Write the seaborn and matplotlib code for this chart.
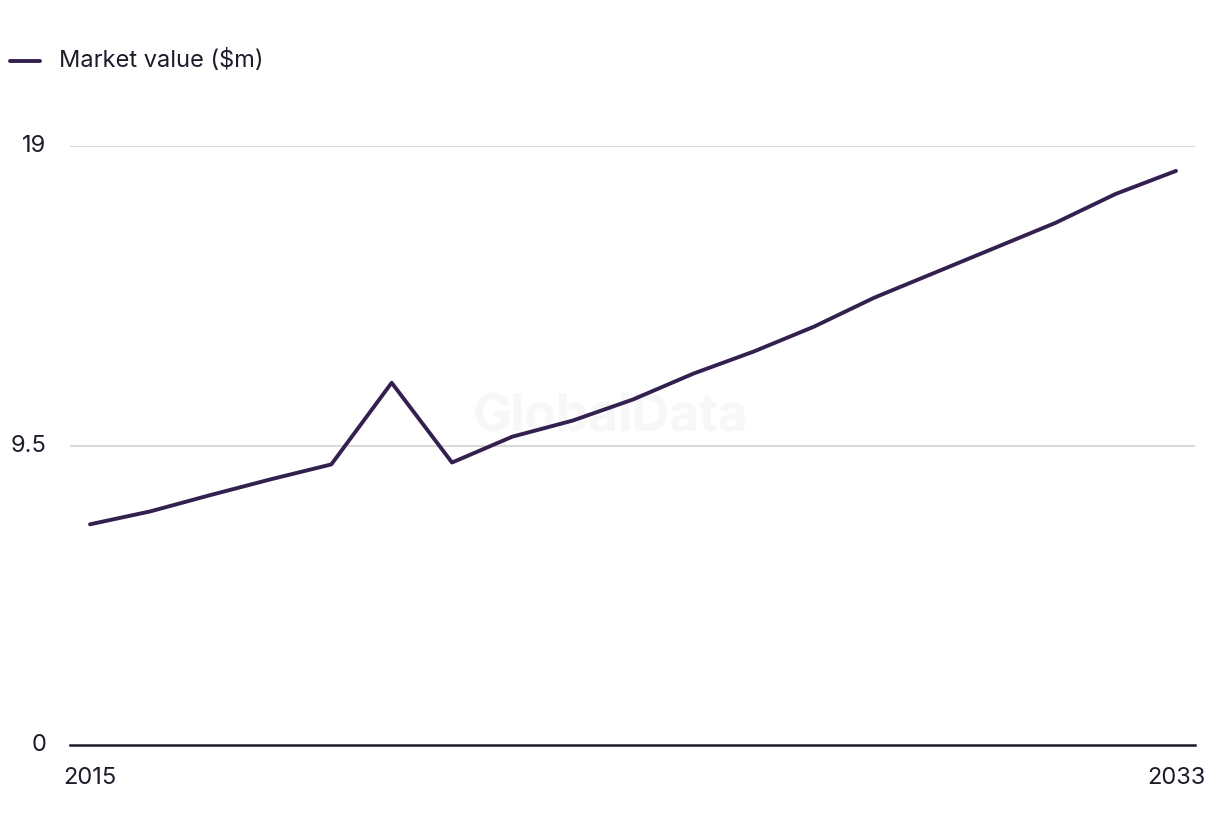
import matplotlib
matplotlib.use("Agg")
import matplotlib.pyplot as plt
import seaborn as sns
import pandas as pd

years = list(range(2015, 2034))
values = [7.0, 7.41, 7.93, 8.43, 8.90, 11.49, 8.96, 9.78, 10.29, 10.96,
          11.78, 12.48, 13.27, 14.19, 14.98, 15.77, 16.56, 17.48, 18.21]
series_name = "Market value ($m)"
y_ticks = [0, 9.5, 19]
y_tick_labels = ["0", "9.5", "19"]
x_ticks = [2015, 2033]

df = pd.DataFrame({"Year": years, "Value": values, "Series": series_name})

sns.set_theme(style="white")
plt.rcParams["font.family"] = ["Inter", "DejaVu Sans"]

line_color = "#33204f"
text_color = "#1c1c2b"

fig = plt.figure(figsize=(12.2, 8.36), dpi=100)
ax = fig.add_axes([70 / 1220, 91 / 836, 1125 / 1220, (745 - 146) / 836])

sns.lineplot(data=df, x="Year", y="Value", hue="Series", palette=[line_color],
             linewidth=2.8, ax=ax, legend=False)

ax.set_xlim(2015 - 20 / 60.33, 2033 + 19 / 60.33)
ax.set_ylim(0, 19)
ax.set_yticks(y_ticks)
ax.set_yticklabels(y_tick_labels)
ax.set_xticks(x_ticks)
ax.set_xticklabels([str(x) for x in x_ticks])
ax.set_xlabel("")
ax.set_ylabel("")

for y in y_ticks[1:]:
    ax.axhline(y, color="#d9d9d9", linewidth=1.5, zorder=0)

for side in ["top", "right", "left"]:
    ax.spines[side].set_visible(False)
ax.spines["bottom"].set_color("#1c1c2b")
ax.spines["bottom"].set_linewidth(1.8)
ax.tick_params(axis="y", length=0, pad=17, labelsize=17, labelcolor=text_color)
ax.tick_params(axis="x", length=0, pad=16, labelsize=17, labelcolor=text_color)
for lbl in ax.get_yticklabels():
    lbl.set_verticalalignment("center")

ax.text(0.48, 0.546, "GlobalData", transform=ax.transAxes, ha="center", va="center",
        fontsize=37, fontweight="bold", color="#f7f7f7", zorder=0)

# legend
fig.lines.append(plt.Line2D([10 / 1220, 40 / 1220], [1 - 61 / 836, 1 - 61 / 836],
                            transform=fig.transFigure, color=line_color, linewidth=2.8))
fig.text(59 / 1220, 1 - 61 / 836, series_name, ha="left", va="center",
         fontsize=17, color=text_color)

fig.savefig("out.png", dpi=100)
